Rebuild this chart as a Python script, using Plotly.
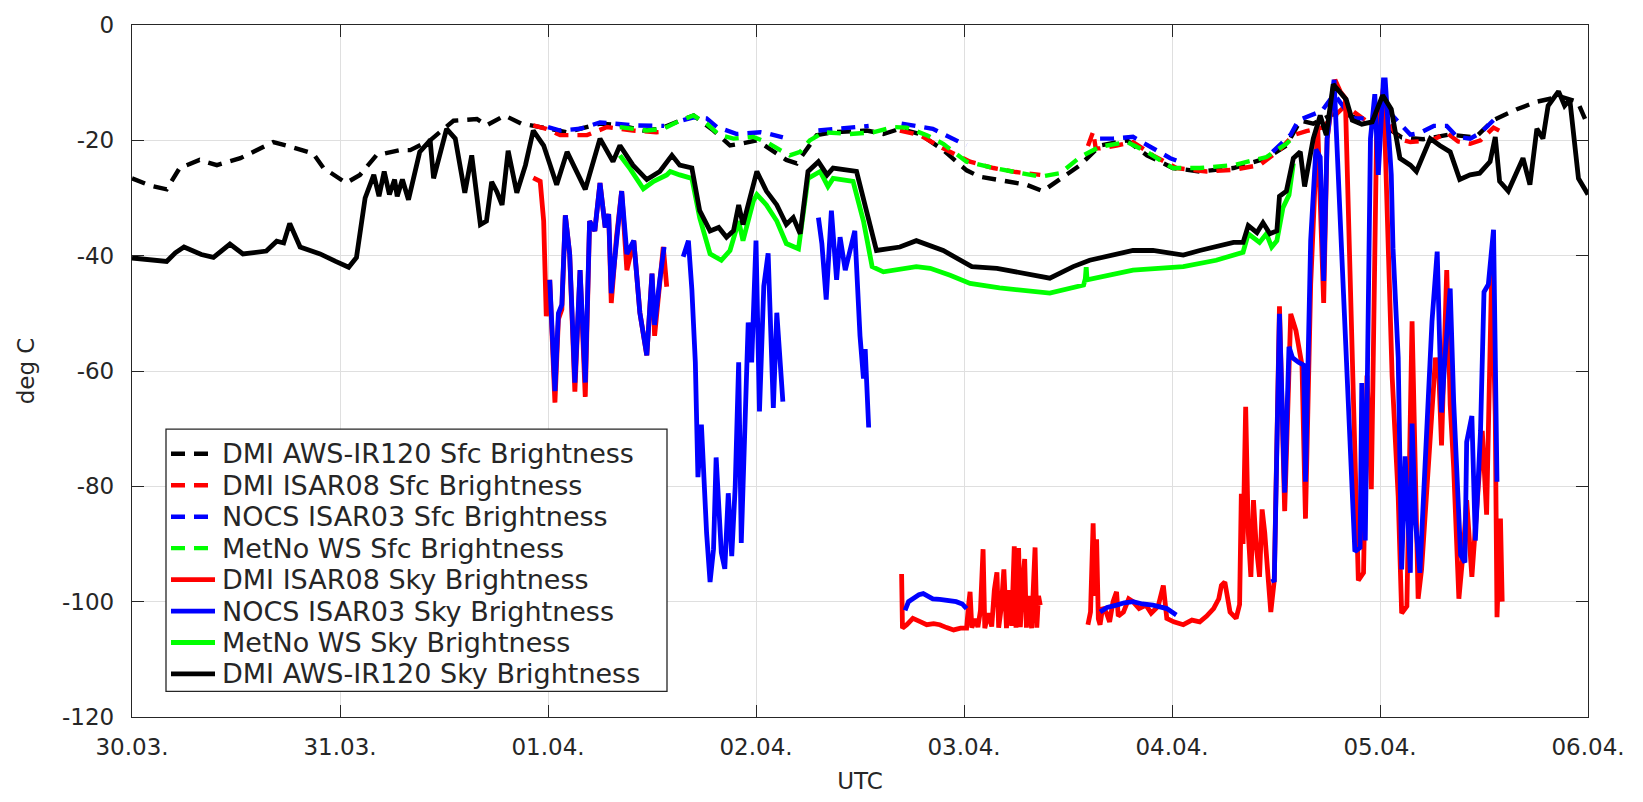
from datetime import datetime, timedelta
import plotly.graph_objects as go

# ---- time axis: hours after 30.03. 00 UTC, None marks a data gap ----
T0 = datetime(2018, 3, 30)
day_labels = ["30.03.", "31.03.", "01.04.", "02.04.", "03.04.", "04.04.", "05.04.", "06.04."]
y_ticks = [-120, -100, -80, -60, -40, -20, 0]

# DMI AWS-IR120 surface brightness temperature
aws_sfc_h = [0, 2, 4, 5.5, 7.8, 9.8, 12.5, 13.6, 16.3, 17.8, 20.9, 22.1, 24.7, 26.3, 28.2, 30.9,
             32.1, 34.4, 37.1, 39.8, 40.9, 43.0, 44.9, 47.1, 50.2, 54.0, 56.3, 59.0, 60.9, 63.2,
             64.8, 67.1, 69.0, 70.2, 72.1, 73.2, 75.5, 76.7, 79.0, 80.9, 84.8, 86.7, 88.6, 90.9,
             93.6, 96.3, 97.8, 100.9, 103.2, 105.1, 107.8, 109.4, 111.7, 114.8, 117.1, 120.1,
             123.2, 127.1, 130.9, 133.2, 134.8, 136.3, 138.5, 140.5, 142.5, 144.5, 146.5, 149.0,
             152.0, 155.0, 157.1, 159.8, 162.1, 164.8, 166.8, 168.0]
aws_sfc_v = [-26.6, -27.8, -28.5, -24.8, -23.4, -24.3, -23.1, -22.3, -20.3, -20.9, -22.3, -24.8,
             -27.4, -26.0, -22.6, -21.7, -21.7, -20.0, -16.6, -16.3, -17.4, -15.7, -17.1, -17.7,
             -18.6, -17.1, -17.4, -18.3, -18.0, -16.6, -15.7, -18.3, -20.9, -20.6, -20.0, -21.1,
             -23.4, -24.0, -19.1, -18.6, -18.3, -18.9, -18.0, -18.9, -21.7, -25.2, -26.3, -27.1,
             -27.7, -28.8, -26.0, -24.3, -20.9, -20.0, -22.6, -24.8, -25.4, -24.8, -23.1, -20.9,
             -16.6, -17.1, -15.5, -15.7, -16.9, -17.5, -19.5, -19.8, -19.0, -19.5, -16.5, -14.6,
             -13.3, -12.4, -13.3, -17.5]

# DMI ISAR08 surface brightness temperature
isar08_sfc_h = [46.3, 47.8, 49.4, 52.5, 54.8, 57.8, 60.5, 61.7, None,
                88.6, 90.9, 93.6, 96.7, 99.4, 102.0, 104.8, None,
                110.3, 110.9, 111.2, 111.7, 113.6, 115.5, 117.8, 120.5, 124.0, 127.1, 130.1,
                132.4, 134.0, 135.5, 137.3, 140.0, 142.3, 144.5, 146.1, 147.5, 150.0, 151.7,
                153.0, 154.4, 155.6, 157.1, 158.0]
isar08_sfc_v = [-17.4, -18.0, -19.1, -19.1, -17.7, -18.3, -18.6, -18.5, None,
                -18.3, -19.1, -21.4, -23.7, -24.8, -25.5, -26.0, None,
                -21.0, -18.5, -21.4, -21.4, -20.9, -20.3, -22.6, -24.8, -25.4, -25.1, -24.3,
                -21.7, -19.1, -18.4, -17.8, -14.0, -16.5, -15.5, -19.7, -20.3, -20.0, -18.7,
                -20.2, -20.6, -20.0, -17.8, -18.5]

# NOCS ISAR03 surface brightness temperature
isar03_sfc_h = [48.0, 49.4, 51.7, 54.0, 57.8, 60.9, 61.4, None,
                63.6, 64.8, 66.3, 67.5, 69.8, 72.5, 73.6, 75.1, None,
                79.2, 81.0, 83.2, 85.0, None,
                88.8, 90.1, 92.4, 95.5, 96.3, None,
                111.7, 113.2, 115.5, 117.8, 119.8, 120.5, None,
                131.6, 133.7, 134.6, 136.2, 137.3, 138.7, 140.8, 143.0, 144.4, 146.1, 147.5,
                148.6, 150.2, 151.7, 152.9, 154.4, 155.6, 157.1, 157.5]
isar03_sfc_v = [-17.7, -18.3, -18.0, -16.9, -17.4, -17.4, -17.5, None,
                -16.5, -16.0, -16.2, -17.7, -18.9, -18.6, -18.9, -19.5, None,
                -18.3, -18.0, -17.7, -17.5, None,
                -17.1, -17.4, -18.0, -20.3, -20.8, None,
                -19.7, -19.7, -19.4, -21.4, -23.1, -23.5, None,
                -22.0, -19.0, -16.5, -15.6, -14.9, -12.0, -16.2, -16.2, -14.0, -16.8, -19.0,
                -18.7, -17.5, -17.5, -19.4, -19.7, -18.7, -16.5, -16.8]

# MetNo weather station surface brightness temperature
metno_sfc_h = [56.3, 59.4, 61.3, 63.2, 64.8, 66.3, 67.8, 69.4, 71.7, 73.2, 74.8, 75.9, 77.1, 78.2,
               79.8, 82.8, 85.5, 87.8, 89.4, 91.7, 93.6, 96.3, 99.4, 102.0, 104.8, 107.1, 109.4,
               111.7, 114.8, 117.1, 120.1, 123.2, 127.1, 130.9, 133.2, 134.0]
metno_sfc_v = [-17.7, -18.3, -18.0, -16.6, -15.7, -17.1, -19.1, -19.7, -19.4, -20.3, -21.7, -22.6,
               -22.0, -20.0, -18.6, -18.9, -18.6, -17.7, -17.8, -19.1, -20.6, -23.7, -24.8, -25.6,
               -26.3, -25.7, -22.9, -21.1, -20.3, -22.0, -24.8, -24.8, -24.3, -22.9, -20.6, -19.4]

# DMI ISAR08 sky brightness temperature
isar08_sky_h = [46.3, 47.1, 47.5, 47.8, 48.2, 48.8, 49.2, 49.6, 50.0, 50.5, 51.1, 51.7, 52.3, 52.8,
                53.4, 54.0, 54.6, 55.0, 55.3, 55.9, 56.5, 57.1, 57.9, 58.6, 59.4, 60.0, 60.3, 60.9,
                61.3, 61.7, None,
                88.8, 88.9, 89.4, 90.1, 91.0, 91.7, 92.5, 93.2, 94.0, 94.8, 95.6, 96.3, 96.5, 96.7,
                96.9, 97.3, 97.6, 97.9, 98.2, 98.4, 98.8, 99.2, 99.5, 99.8, 100.0, 100.3, 100.6,
                100.9, 101.2, 101.5, 101.8, 102.0, 102.3, 102.5, 102.8, 103.0, 103.2, 103.5, 103.8,
                104.2, 104.4, 104.6, 104.8, None,
                110.3, 110.6, 110.9, 111.1, 111.3, 111.5, 111.7, 112.0, 112.4, 112.8, 113.2, 113.6,
                113.8, 114.4, 115.0, 115.5, 116.2, 117.0, 117.6, 118.4, 119.0, 119.4, 120.2, 121.3,
                122.3, 123.2, 124.0, 124.8, 125.4, 125.7, 126.1, 126.4, 126.7, 127.4, 127.8, 128.0,
                128.2, 128.5, 128.8, 129.1, 129.4, 129.7, 130.1, 130.4, 130.7, 131.1, 131.4, 131.8,
                132.4, 133.0, 133.7, 134.3, 135.0, 135.4, 136.0, 136.8, 137.5, 137.9, 138.8, 139.4,
                140.0, 141.5, 142.1, 142.5, 143.0, 143.6, 144.4, 145.4, 146.1, 146.5, 147.1, 147.7,
                147.9, 148.4, 148.8, 149.6, 150.4, 150.8, 151.1, 151.7, 152.1, 152.5, 153.1, 153.6,
                154.0, 154.6, 155.2, 155.8, 156.3, 156.9, 157.3, 157.5, 157.9, 158.1]
isar08_sky_v = [-26.5, -27.1, -34.0, -50.5, -44.2, -65.5, -51.0, -49.3, -33.0, -39.7, -63.6, -42.5,
                -64.5, -34.0, -35.7, -27.4, -35.1, -32.8, -48.2, -36.8, -28.8, -42.5, -37.4, -49.9,
                -57.3, -43.1, -53.9, -44.2, -38.5, -45.4, None,
                -95.2, -104.6, -104.0, -102.9, -103.5, -104.0, -103.8, -104.0, -104.5, -104.9,
                -104.6, -104.6, -101.0, -98.3, -104.5, -103.0, -104.4, -101.5, -90.9, -104.6,
                -102.0, -104.3, -98.0, -94.9, -104.5, -101.0, -94.4, -104.6, -98.0, -104.2, -90.4,
                -104.5, -90.7, -104.4, -96.0, -92.6, -104.5, -99.0, -104.6, -90.6, -104.5, -99.0,
                -100.6, None,
                -104.0, -101.8, -86.4, -99.0, -89.2, -103.0, -104.0, -101.0, -101.8, -103.5, -100.0,
                -98.3, -102.5, -101.8, -99.5, -100.0, -101.2, -100.6, -102.0, -100.8, -97.2, -102.9,
                -103.5, -104.0, -103.2, -103.5, -102.5, -101.2, -99.5, -97.2, -96.6, -99.8, -101.8,
                -102.9, -100.5, -81.3, -90.0, -66.2, -88.0, -95.7, -82.4, -90.0, -95.7, -84.0, -88.0,
                -96.0, -101.8, -96.3, -48.8, -84.3, -50.1, -53.0, -59.0, -85.6, -45.0, -17.1, -48.2,
                -19.7, -9.5, -11.5, -12.7, -96.3, -95.0, -60.8, -80.5, -19.7, -10.8, -60.9, -81.8,
                -102.0, -100.8, -51.4, -67.8, -99.5, -94.4, -75.4, -57.7, -60.9, -72.9, -42.5, -65.9,
                -76.7, -99.5, -91.3, -82.4, -95.7, -83.0, -70.4, -84.9, -41.9, -67.8, -102.7, -85.6,
                -100.0]

# NOCS ISAR03 sky brightness temperature
isar03_sky_h = [48.2, 48.8, 49.2, 49.6, 50.0, 50.5, 51.1, 51.7, 52.3, 52.8, 53.4, 54.0, 54.6, 55.0,
                55.3, 55.9, 56.5, 57.1, 57.9, 58.6, 59.4, 60.0, 60.3, 60.9, 61.4, None,
                63.6, 64.2, 64.6, 65.0, 65.3, 65.7, 66.3, 66.7, 67.1, 67.4, 68.0, 68.4, 68.8, 69.2,
                69.6, 70.0, 70.3, 70.9, 71.1, 71.5, 72.0, 72.4, 72.9, 73.4, 74.0, 74.4, 75.1, None,
                79.2, 79.6, 80.1, 80.7, 81.3, 81.7, 82.3, 82.8, 83.4, 84.0, 84.4, 84.6, 85.0, None,
                89.2, 89.6, 90.1, 90.8, 91.3, 92.0, 92.4, 93.2, 94.0, 94.6, 95.1, 95.8, 96.3, None,
                111.7, 112.5, 113.6, 114.5, 115.5, 116.6, 117.8, 118.6, 119.4, 120.5, None,
                131.6, 131.8, 132.4, 133.0, 133.5, 133.9, 134.6, 135.2, 135.4, 136.0, 136.6, 137.1,
                137.5, 137.9, 138.7, 141.1, 141.7, 141.9, 142.3, 142.9, 143.4, 143.8, 144.4, 144.6,
                145.3, 145.5, 146.1, 146.5, 146.9, 147.5, 147.7, 148.1, 148.6, 149.4, 150.0, 150.6,
                151.1, 151.5, 152.1, 152.5, 153.3, 153.8, 154.0, 154.6, 155.0, 155.6, 156.0, 156.5,
                157.1, 157.5]
isar03_sky_v = [-44.2, -63.5, -50.0, -48.5, -33.0, -39.7, -62.0, -42.5, -62.0, -34.0, -35.7, -27.4,
                -35.1, -32.8, -46.5, -36.8, -28.8, -39.7, -37.4, -49.9, -57.3, -43.1, -52.0, -44.2,
                -38.5, None,
                -40.2, -37.4, -45.9, -58.5, -78.4, -69.3, -88.1, -96.6, -90.9, -75.0, -91.5, -94.3,
                -81.2, -92.1, -80.1, -58.5, -89.8, -57.3, -51.6, -58.5, -37.4, -67.0, -45.3, -39.6,
                -66.4, -49.9, -65.3, None,
                -33.4, -37.9, -47.6, -32.2, -44.2, -36.8, -42.5, -39.6, -35.7, -53.9, -61.3, -56.2,
                -69.8, None,
                -101.5, -100.0, -99.5, -98.8, -98.6, -99.2, -99.5, -99.6, -99.8, -99.9, -100.0,
                -100.4, -101.2, None,
                -101.8, -101.0, -100.6, -100.2, -100.0, -100.4, -100.6, -100.8, -101.2, -102.3, None,
                -96.0, -96.6, -50.1, -81.1, -55.8, -57.7, -58.5, -59.0, -79.2, -37.4, -21.6, -22.9,
                -44.4, -19.7, -9.5, -91.3, -90.6, -62.1, -89.4, -19.7, -12.0, -26.0, -9.5, -9.5,
                -26.0, -38.7, -57.7, -94.4, -74.8, -95.0, -69.1, -86.2, -95.0, -70.4, -51.4, -39.3,
                -67.2, -57.7, -45.7, -65.3, -91.9, -93.2, -72.3, -67.8, -89.4, -70.4, -46.3, -45.0,
                -35.5, -79.2]

# MetNo weather station sky brightness temperature
metno_sky_h = [56.3, 57.5, 59.0, 60.2, 61.7, 62.1, 63.2, 64.6, 65.5, 66.3, 66.7, 68.0, 69.0, 70.0,
               70.5, 71.7, 72.1, 73.2, 74.4, 75.5, 76.9, 78.0, 79.4, 80.3, 80.9, 83.2, 84.4, 85.4,
               86.7, 90.5, 92.1, 94.4, 96.7, 100.1, 103.0, 105.9, 109.8, 110.0, 110.1, 110.2, 115.5,
               121.3, 125.1, 128.2, 128.8, 130.1, 130.9, 131.5, 132.1, 132.8, 133.5, 134.0]
metno_sky_v = [-22.6, -25.0, -28.4, -27.1, -26.0, -25.4, -26.0, -26.6, -33.4, -37.9, -39.7, -40.8,
               -39.1, -34.0, -37.4, -30.5, -29.4, -31.2, -34.0, -37.9, -38.8, -26.6, -25.4, -28.0,
               -26.6, -27.1, -34.0, -41.9, -42.8, -41.9, -42.2, -43.4, -44.8, -45.6, -46.0, -46.5,
               -45.1, -44.0, -42.0, -44.2, -42.5, -41.9, -40.8, -39.4, -36.2, -37.7, -36.2, -38.5,
               -37.4, -31.7, -29.5, -24.0]

# DMI AWS-IR120 sky brightness temperature
aws_sky_h = [0, 2, 4, 5, 6, 8, 9.4, 11.3, 12.8, 15.5, 16.7, 17.5, 18.2, 19.4, 21.7, 23.5, 25.0,
             25.9, 26.9, 27.9, 28.5, 29.1, 29.7, 30.3, 30.6, 31.2, 31.9, 33.2, 34.4, 34.8, 36.3,
             37.3, 38.4, 39.2, 40.2, 40.9, 41.5, 42.1, 42.7, 43.4, 44.4, 45.4, 46.3, 47.5, 49.0,
             50.2, 52.3, 54.0, 55.5, 56.3, 57.8, 59.4, 60.9, 62.3, 63.2, 64.6, 65.5, 66.7, 67.7,
             68.6, 69.4, 70.0, 70.5, 72.1, 73.2, 74.4, 75.5, 76.3, 77.1, 78.0, 79.2, 80.2, 80.9,
             83.6, 84.8, 85.9, 88.6, 90.5, 93.6, 96.9, 99.8, 102.1, 105.9, 108.6, 110.5, 115.5,
             117.8, 121.3, 123.2, 127.1, 128.2, 128.8, 129.8, 130.5, 131.3, 132.1, 132.4, 133.2,
             134.0, 134.8, 135.3, 136.3, 137.1, 137.8, 138.6, 140.1, 140.8, 141.9, 143.1, 144.3,
             145.3, 146.3, 147.5, 148.2, 149.8, 150.9, 152.1, 153.2, 154.4, 155.5, 156.7, 157.3,
             157.8, 158.8, 159.8, 160.5, 161.3, 162.1, 162.8, 163.4, 164.6, 165.3, 165.9, 166.5,
             166.9, 168.0]
aws_sky_v = [-40.4, -40.8, -41.0, -39.5, -38.5, -39.8, -40.3, -38.0, -39.7, -39.2, -37.5, -37.8,
             -34.4, -38.5, -39.7, -41.0, -42.0, -40.3, -30.0, -26.0, -29.7, -25.4, -29.4, -26.8,
             -29.7, -26.8, -30.3, -22.0, -20.0, -26.6, -18.0, -19.7, -29.1, -22.6, -34.6, -34.0,
             -27.2, -28.9, -31.2, -21.8, -29.1, -24.3, -18.3, -20.9, -27.7, -22.0, -28.5, -19.7,
             -23.7, -20.9, -24.3, -26.8, -25.4, -22.6, -24.3, -24.8, -32.2, -35.7, -35.1, -36.8,
             -35.7, -31.2, -34.6, -25.4, -28.8, -31.2, -34.6, -33.4, -36.2, -25.4, -23.7, -26.0,
             -24.8, -25.4, -32.2, -39.1, -38.5, -37.4, -39.1, -41.9, -42.2, -42.8, -43.9, -41.9,
             -40.8, -39.1, -39.1, -39.9, -39.1, -37.7, -37.7, -34.8, -36.0, -34.3, -36.2, -35.7,
             -29.7, -28.8, -23.1, -22.0, -28.0, -19.7, -15.7, -19.1, -10.3, -12.9, -16.5, -17.2,
             -16.8, -12.2, -14.6, -23.1, -24.3, -25.4, -19.7, -20.9, -22.0, -26.8, -26.0, -25.7,
             -23.7, -19.4, -27.1, -28.8, -25.4, -23.1, -27.7, -18.0, -19.7, -14.0, -11.5, -14.0,
             -12.9, -21.4, -26.6, -29.4]

# ---- series styling, in plotting (and key) order ----
series = [
    ("DMI AWS-IR120 Sfc Brightness", aws_sfc_h, aws_sfc_v, "#000000", "dash"),
    ("DMI ISAR08 Sfc Brightness", isar08_sfc_h, isar08_sfc_v, "#ff0000", "dash"),
    ("NOCS ISAR03 Sfc Brightness", isar03_sfc_h, isar03_sfc_v, "#0000ff", "dash"),
    ("MetNo WS Sfc Brightness", metno_sfc_h, metno_sfc_v, "#00ff00", "dash"),
    ("DMI ISAR08 Sky Brightness", isar08_sky_h, isar08_sky_v, "#ff0000", "solid"),
    ("NOCS ISAR03 Sky Brightness", isar03_sky_h, isar03_sky_v, "#0000ff", "solid"),
    ("MetNo WS Sky Brightness", metno_sky_h, metno_sky_v, "#00ff00", "solid"),
    ("DMI AWS-IR120 Sky Brightness", aws_sky_h, aws_sky_v, "#000000", "solid"),
]
DASH = "14px,9px"
W_SFC, W_SKY = 4.4, 4.8


def to_time(hours):
    return [None if h is None else T0 + timedelta(hours=h) for h in hours]


fig = go.Figure()
for name, hrs, vals, color, style in series:
    fig.add_trace(go.Scatter(
        x=to_time(hrs), y=vals, name=name, mode="lines",
        line=dict(color=color,
                  width=W_SFC if style == "dash" else W_SKY,
                  dash=DASH if style == "dash" else "solid"),
        connectgaps=False, showlegend=False,
    ))

# ---- figure geometry (pixels) ----
FIG_W, FIG_H = 1643, 802
PL, PR, PT, PB = 132, 1588, 18, 720          # plot-area edges


def px(xp):
    return (xp - PL) / (PR - PL)


def py(yp):
    return (PB - yp) / (PB - PT)


ink = "#262626"
grid = "#dfdfdf"

# ---- boxed key in the lower left of the axes ----
KEY_L, KEY_R, KEY_T, KEY_B = 166, 667, 428, 694
KEY_ROW0, KEY_ROW = 453, 31.9
KEY_LINE0, KEY_LINE1, KEY_TEXT = 171, 215, 220

shapes = [dict(type="rect", xref="paper", yref="paper", layer="above",
               x0=px(KEY_L), x1=px(KEY_R), y0=py(KEY_B), y1=py(KEY_T),
               line=dict(color=ink, width=1.3), fillcolor="white")]
annotations = []
for i, (name, _, _, color, style) in enumerate(series):
    yc = KEY_ROW0 + i * KEY_ROW
    shapes.append(dict(type="line", xref="paper", yref="paper", layer="above",
                       x0=px(KEY_LINE0), x1=px(KEY_LINE1), y0=py(yc), y1=py(yc),
                       line=dict(color=color, width=W_SFC if style == "dash" else W_SKY,
                                 dash=DASH if style == "dash" else "solid")))
    annotations.append(dict(xref="paper", yref="paper", x=px(KEY_TEXT), y=py(yc),
                            xanchor="left", yanchor="middle", showarrow=False, text=name,
                            font=dict(family="DejaVu Sans", size=27, color=ink)))

day_ticks = [T0 + timedelta(days=k) for k in range(len(day_labels))]

fig.update_layout(
    width=FIG_W, height=FIG_H,
    margin=dict(l=PL, r=FIG_W - PR, t=PT, b=FIG_H - PB),
    paper_bgcolor="white", plot_bgcolor="white",
    font=dict(family="DejaVu Sans", size=23, color=ink),
    showlegend=False,
    shapes=shapes, annotations=annotations,
    xaxis=dict(
        range=[day_ticks[0], day_ticks[-1]],
        tickmode="array", tickvals=day_ticks, ticktext=day_labels,
        ticks="inside", ticklen=12, tickwidth=1.3, tickcolor=ink,
        showline=True, linecolor=ink, linewidth=1.3, mirror="ticks",
        showgrid=True, gridcolor=grid, gridwidth=1,
        zeroline=False,
        title=dict(text="UTC", font=dict(size=23), standoff=14),
        ticklabelstandoff=9,
    ),
    yaxis=dict(
        range=[-120, 0],
        tickmode="array", tickvals=y_ticks, ticktext=[str(v) for v in y_ticks],
        ticks="inside", ticklen=12, tickwidth=1.3, tickcolor=ink,
        showline=True, linecolor=ink, linewidth=1.3, mirror="ticks",
        showgrid=True, gridcolor=grid, gridwidth=1,
        zeroline=False,
        title=dict(text="deg C", font=dict(size=23), standoff=20),
        ticklabelstandoff=12,
    ),
)

fig.write_html("out.html")
